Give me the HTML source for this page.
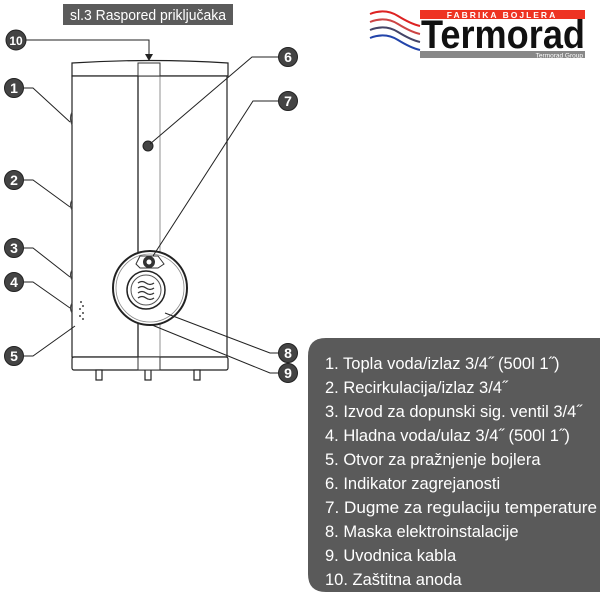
<!DOCTYPE html>
<html><head><meta charset="utf-8"><style>
html,body{margin:0;padding:0;background:#fff;width:600px;height:600px;overflow:hidden}
</style></head><body>
<svg width="600" height="600" viewBox="0 0 600 600" xmlns="http://www.w3.org/2000/svg" font-family="Liberation Sans, sans-serif">
<rect x="63" y="4" width="170" height="21" fill="#5b5b5b"/>
<text x="148" y="20" fill="#fff" font-size="15" text-anchor="middle" textLength="156" lengthAdjust="spacingAndGlyphs">sl.3 Raspored priključaka</text>

<g fill="none" stroke-width="2">
<path d="M370 14 Q385 8 398 16 T420 26" stroke="#d22"/>
<path d="M370 22 Q385 16 398 24 T420 34" stroke="#c44"/>
<path d="M370 30 Q385 24 398 32 T420 42" stroke="#446"/>
<path d="M370 38 Q385 32 398 40 T420 50" stroke="#24a"/>
</g>
<rect x="420" y="10" width="165" height="9" fill="#e32"/>
<text x="502" y="18" fill="#fff" font-size="8.5" font-weight="bold" text-anchor="middle" letter-spacing="2">FABRIKA BOJLERA</text>
<text x="421" y="48" fill="#111" font-size="40" font-weight="bold" textLength="164" lengthAdjust="spacingAndGlyphs">Termorad</text>
<rect x="420" y="51" width="165" height="7" fill="#888"/>
<text x="583" y="57.5" fill="#fff" font-size="6.5" text-anchor="end">Termorad Group</text>

<g fill="#fff" stroke="#222" stroke-width="1.2">
<path d="M72 63 Q150 58 228 63 L228 76 L72 76 Z"/>
<rect x="72" y="76" width="155" height="281"/>
<rect x="72" y="357" width="156" height="13" rx="2"/>
<rect x="96" y="370" width="6" height="10"/>
<rect x="145" y="370" width="6" height="10"/>
<rect x="194" y="370" width="6" height="10"/>
</g>
<line x1="138" y1="76" x2="138" y2="357" stroke="#222" stroke-width="1.3"/>
<line x1="160" y1="76" x2="160" y2="357" stroke="#777" stroke-width="0.8"/>
<rect x="138" y="63" width="22" height="13" fill="#fff" stroke="#333"/>
<rect x="138" y="357" width="22" height="13" fill="#fff" stroke="#333"/>
<g fill="none" stroke="#444" stroke-width="1.2">
<path d="M72 112 Q69 118 72 125"/>
<path d="M72 200 Q69 205 72 210"/>
<path d="M72 270 Q69 275 72 280"/>
<path d="M72 303 Q69 308 72 313"/>
</g>
<g fill="#444"><circle cx="81" cy="302" r="1"/><circle cx="83" cy="306" r="1"/><circle cx="80" cy="309" r="1"/><circle cx="83" cy="313" r="1"/><circle cx="80" cy="316" r="1"/><circle cx="83" cy="319" r="1"/></g>
<circle cx="148" cy="146" r="5" fill="#444" stroke="#222"/>
<circle cx="150" cy="288" r="37" fill="#fff" stroke="#222" stroke-width="2"/>
<circle cx="150" cy="288" r="34" fill="none" stroke="#888" stroke-width="0.8"/>
<circle cx="146" cy="290" r="19" fill="#fff" stroke="#222" stroke-width="1.5"/>
<circle cx="146" cy="290" r="15" fill="none" stroke="#555"/>
<g fill="none" stroke="#333" stroke-width="1.3">
<path d="M138 283 q4 -3 8 0 t8 0"/><path d="M138 288 q4 -3 8 0 t8 0"/><path d="M138 293 q4 -3 8 0 t8 0"/><path d="M138 298 q4 -3 8 0 t8 0"/>
</g>
<path d="M136 264 L140 256 L158 256 L164 264 L158 268 L140 268 Z" fill="#fff" stroke="#333"/>
<circle cx="149" cy="262" r="6" fill="#333"/><circle cx="149" cy="262" r="2.5" fill="#fff"/>

<g fill="none" stroke="#222" stroke-width="1">
<path d="M26 40 H149 V55"/>
<path d="M24 88 H33 L70 122"/>
<path d="M24 180 H33 L70 207"/>
<path d="M24 248 H33 L70 277"/>
<path d="M24 282 H33 L70 308"/>
<path d="M24 356 H33 L75 326"/>
<path d="M279 57 H252 L150 144"/>
<path d="M279 101 H253 L153 256"/>
<path d="M279 353 H270 L165 313"/>
<path d="M279 373 H270 L152 325"/>
</g>
<path d="M145 54 L153 54 L149 61 Z" fill="#222"/>
<g fill="#444" stroke="#222">
<circle cx="16" cy="40" r="10"/><circle cx="14" cy="88" r="9.5"/><circle cx="14" cy="180" r="9.5"/>
<circle cx="14" cy="248" r="9.5"/><circle cx="14" cy="282" r="9.5"/><circle cx="14" cy="356" r="9.5"/>
<circle cx="288" cy="57" r="9.5"/><circle cx="288" cy="101" r="9.5"/><circle cx="288" cy="353" r="9.5"/><circle cx="288" cy="373" r="9.5"/>
</g>
<g fill="#fff" font-size="14" font-weight="bold" text-anchor="middle">
<text x="16" y="45" font-size="12">10</text><text x="14" y="93">1</text><text x="14" y="185">2</text>
<text x="14" y="253">3</text><text x="14" y="287">4</text><text x="14" y="361">5</text>
<text x="288" y="62">6</text><text x="288" y="106">7</text><text x="288" y="358">8</text><text x="288" y="378">9</text>
</g>

<path d="M326 338 H600 V592 H326 Q308 592 308 574 V356 Q308 338 326 338 Z" fill="#5a5a5a"/>
<g fill="#fff" font-size="16.5">
<text x="325" y="369">1. Topla voda/izlaz 3/4˝ (500l 1˝)</text>
<text x="325" y="393">2. Recirkulacija/izlaz 3/4˝</text>
<text x="325" y="417">3. Izvod za dopunski sig. ventil 3/4˝</text>
<text x="325" y="441">4. Hladna voda/ulaz 3/4˝ (500l 1˝)</text>
<text x="325" y="465">5. Otvor za pražnjenje bojlera</text>
<text x="325" y="489">6. Indikator zagrejanosti</text>
<text x="325" y="513" textLength="272" lengthAdjust="spacingAndGlyphs">7. Dugme za regulaciju temperature</text>
<text x="325" y="537">8. Maska elektroinstalacije</text>
<text x="325" y="561">9. Uvodnica kabla</text>
<text x="325" y="585">10. Zaštitna anoda</text>
</g>
</svg>
</body></html>
